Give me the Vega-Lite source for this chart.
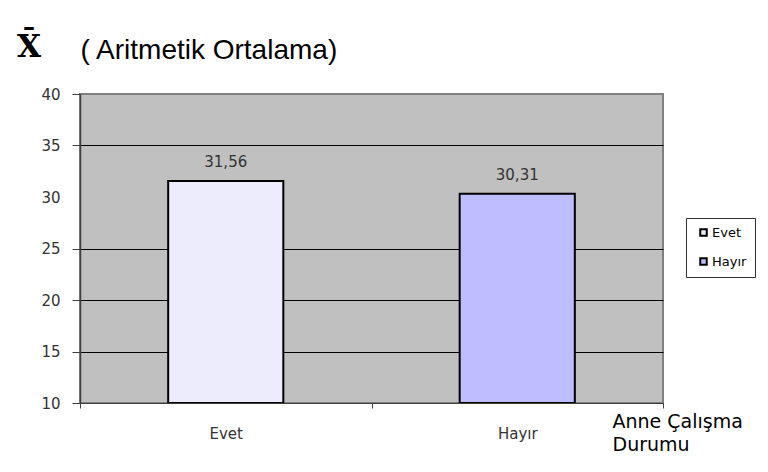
{
  "$schema": "https://vega.github.io/schema/vega-lite/v6.json",
  "width": 583,
  "height": 309,
  "autosize": {"type": "none"},
  "padding": {"left": 80, "top": 94, "right": 105, "bottom": 69},
  "background": "white",
  "title": {
    "text": "X̄",
    "anchor": "start",
    "frame": "group",
    "dx": -63,
    "dy": 65,
    "offset": 37,
    "font": "DejaVu Serif",
    "fontSize": 31,
    "fontWeight": "bold",
    "color": "black"
  },
  "data": {
    "values": [
      {"durum": "Evet", "ortalama": 31.56},
      {"durum": "Hayır", "ortalama": 30.31}
    ]
  },
  "encoding": {
    "x": {
      "field": "durum",
      "type": "nominal",
      "sort": ["Evet", "Hayır"],
      "scale": {"paddingInner": 0, "paddingOuter": 0},
      "axis": {
        "title": ["Anne Çalışma", "Durumu"],
        "titleX": 532,
        "titleY": 24,
        "titleAlign": "left",
        "titleBaseline": "alphabetic",
        "titleFont": "DejaVu Sans",
        "titleFontSize": 19,
        "titleFontWeight": "normal",
        "titleColor": "black",
        "titleLineHeight": 23,
        "labelAngle": 0,
        "labelFont": "DejaVu Sans",
        "labelFontSize": 15,
        "labelColor": "#333333",
        "labelPadding": 18,
        "tickBand": "extent",
        "tickSize": 5,
        "tickColor": "#404040",
        "domainColor": "#404040",
        "grid": false
      }
    },
    "y": {
      "field": "ortalama",
      "type": "quantitative",
      "scale": {"domain": [10, 40], "nice": false, "zero": false},
      "axis": {
        "values": [10, 15, 20, 25, 30, 35, 40],
        "title": "( Aritmetik Ortalama)",
        "titleAngle": 0,
        "titleX": 0,
        "titleY": -36,
        "titleAlign": "left",
        "titleBaseline": "alphabetic",
        "titleFont": "Liberation Sans",
        "titleFontSize": 28,
        "titleFontWeight": "normal",
        "titleColor": "black",
        "labelFont": "DejaVu Sans",
        "labelFontSize": 15,
        "labelColor": "#333333",
        "labelPadding": 12,
        "tickSize": 8,
        "tickColor": {"condition": {"test": "datum.value == 30", "value": "transparent"}, "value": "#404040"},
        "domainColor": "#404040",
        "domainWidth": 1.5,
        "grid": true,
        "gridColor": {"condition": {"test": "datum.value == 30 || datum.value == 40 || datum.value == 10", "value": "transparent"}, "value": "black"},
        "gridWidth": 1,
        "gridOpacity": 1
      }
    }
  },
  "layer": [
    {
      "mark": {"type": "bar", "clip": true, "width": {"band": 0.395}, "stroke": "black", "strokeWidth": 2},
      "encoding": {
        "y2": {"datum": 10},
        "fill": {
          "field": "durum",
          "type": "nominal",
          "sort": ["Evet", "Hayır"],
          "scale": {"domain": ["Evet", "Hayır"], "range": ["#ECECFD", "#BDBDFF"]},
          "legend": {
            "title": null,
            "orient": "none",
            "legendX": 606,
            "legendY": 124,
            "direction": "vertical",
            "strokeColor": "#303030",
            "fillColor": "white",
            "padding": 8,
            "rowPadding": 14,
            "symbolType": "square",
            "symbolSize": 42,
            "symbolOffset": 3,
            "symbolStrokeColor": "black",
            "symbolStrokeWidth": 2,
            "labelFont": "DejaVu Sans",
            "labelFontSize": 13,
            "labelColor": "black",
            "labelOffset": 2,
            "labelLimit": 60
          }
        }
      }
    },
    {
      "mark": {"type": "text", "dy": -14, "font": "DejaVu Sans", "fontSize": 15, "color": "#333333", "baseline": "alphabetic"},
      "encoding": {
        "text": {"field": "ortalama", "type": "quantitative", "format": ".2f"}
      }
    }
  ],
  "config": {
    "locale": {
      "number": {"decimal": ",", "thousands": ".", "grouping": [3], "currency": ["", " TL"]}
    },
    "view": {"fill": "#C0C0C0", "stroke": "#808080", "strokeWidth": 2}
  }
}
